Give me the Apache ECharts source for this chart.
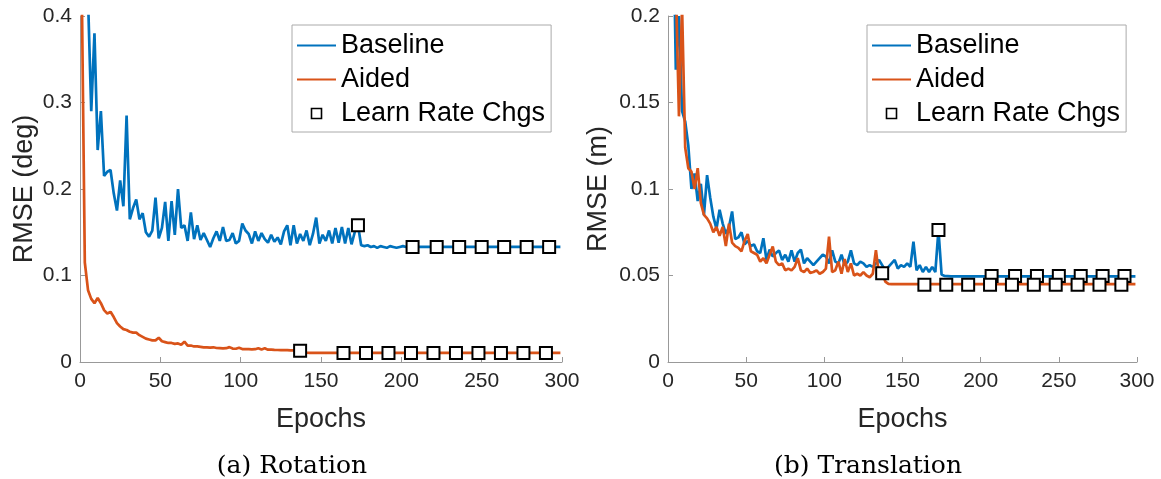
<!DOCTYPE html>
<html>
<head>
<meta charset="utf-8">
<script src="https://cdn.jsdelivr.net/npm/echarts@6/dist/echarts.min.js"></script>
<style>
  html, body { margin: 0; padding: 0; background: #fff; }
  #chart { width: 1161px; height: 479px; }
</style>
</head>
<body>
<div id="chart"></div>
<script>
// sampled every 2 epochs: 1, 3, 5, ... 299
const epochs = []
for (let e = 1; e < 300; e += 2) epochs.push(e)

const xTicks = [0, 50, 100, 150, 200, 250, 300]

// (a) Rotation, RMSE in deg
const rotBaseline = [
  0.95, 0.62, 0.42, 0.29, 0.38, 0.245, 0.29, 0.215, 0.22, 0.222,
  0.195, 0.175, 0.21, 0.18, 0.285, 0.165, 0.178, 0.188, 0.165, 0.172,
  0.15, 0.145, 0.152, 0.19, 0.143, 0.155, 0.185, 0.14, 0.186, 0.147,
  0.2, 0.155, 0.158, 0.14, 0.173, 0.142, 0.158, 0.141, 0.149, 0.141,
  0.133, 0.143, 0.151, 0.14, 0.156, 0.14, 0.141, 0.149, 0.137, 0.14,
  0.16, 0.152, 0.148, 0.137, 0.151, 0.14, 0.149, 0.142, 0.138, 0.147,
  0.139, 0.144, 0.136, 0.151, 0.158, 0.135, 0.158, 0.137, 0.148, 0.14,
  0.152, 0.135, 0.148, 0.167, 0.137, 0.147, 0.14, 0.152, 0.137, 0.155,
  0.138, 0.156, 0.137, 0.155, 0.136, 0.15, 0.158, 0.135, 0.134, 0.135,
  0.133, 0.134, 0.132, 0.134, 0.133, 0.132, 0.134, 0.133, 0.132, 0.133,
  0.134, 0.133, 0.133, 0.133, 0.133, 0.133, 0.133, 0.133, 0.133, 0.133,
  0.133, 0.133, 0.133, 0.133, 0.133, 0.133, 0.133, 0.133, 0.133, 0.133,
  0.133, 0.133, 0.133, 0.133, 0.133, 0.133, 0.133, 0.133, 0.133, 0.133,
  0.133, 0.133, 0.133, 0.133, 0.133, 0.133, 0.133, 0.133, 0.133, 0.133,
  0.133, 0.133, 0.133, 0.133, 0.133, 0.133, 0.133, 0.133, 0.133, 0.133
]
const rotAided = [
  0.45, 0.115, 0.083, 0.073, 0.068, 0.074, 0.068, 0.06, 0.056, 0.058,
  0.052, 0.045, 0.041, 0.038, 0.037, 0.035, 0.034, 0.034, 0.031, 0.029,
  0.027, 0.026, 0.025, 0.025, 0.028, 0.024, 0.023, 0.022, 0.022, 0.021,
  0.0215, 0.02, 0.0235, 0.019, 0.019, 0.018, 0.018, 0.0175, 0.017, 0.0168,
  0.0166, 0.017, 0.0162, 0.016, 0.0158, 0.016, 0.0172, 0.0155, 0.0153, 0.0165,
  0.015, 0.015, 0.0148, 0.0146, 0.0148, 0.016, 0.0145, 0.0158, 0.0143, 0.0142,
  0.014, 0.0139, 0.0138, 0.0137, 0.0138, 0.0135, 0.0135, 0.0133, 0.013, 0.011,
  0.0107, 0.0106, 0.0105, 0.0105, 0.0105, 0.0105, 0.0105, 0.0105, 0.0105, 0.0105,
  0.0105, 0.0105, 0.0105, 0.0105, 0.0105, 0.0105, 0.0105, 0.0105, 0.0105, 0.0105,
  0.0105, 0.0105, 0.0105, 0.0105, 0.0105, 0.0105, 0.0105, 0.0105, 0.0105, 0.0105,
  0.0105, 0.0105, 0.0105, 0.0105, 0.0105, 0.0105, 0.0105, 0.0105, 0.0105, 0.0105,
  0.0105, 0.0105, 0.0105, 0.0105, 0.0105, 0.0105, 0.0105, 0.0105, 0.0105, 0.0105,
  0.0105, 0.0105, 0.0105, 0.0105, 0.0105, 0.0105, 0.0105, 0.0105, 0.0105, 0.0105,
  0.0105, 0.0105, 0.0105, 0.0105, 0.0105, 0.0105, 0.0105, 0.0105, 0.0105, 0.0105,
  0.0105, 0.0105, 0.0105, 0.0105, 0.0105, 0.0105, 0.0105, 0.0105, 0.0105, 0.0105
]

// (b) Translation, RMSE in m
const transBaseline = [
  0.5, 0.28, 0.169, 0.2, 0.145, 0.139, 0.125, 0.1, 0.109, 0.093,
  0.103, 0.085, 0.108, 0.095, 0.084, 0.077, 0.088, 0.08, 0.074, 0.078,
  0.087, 0.071, 0.072, 0.075, 0.068, 0.07, 0.067, 0.068, 0.064, 0.063,
  0.0715, 0.059, 0.065, 0.061, 0.063, 0.0645, 0.059, 0.062, 0.058, 0.0645,
  0.058, 0.063, 0.065, 0.057, 0.06, 0.058, 0.056, 0.058, 0.06, 0.062,
  0.061, 0.057, 0.0645, 0.058, 0.057, 0.062, 0.056, 0.058, 0.0645, 0.057,
  0.056, 0.058, 0.057, 0.055, 0.056, 0.055, 0.057, 0.059, 0.056, 0.053,
  0.055, 0.057, 0.059, 0.054, 0.056, 0.055, 0.057, 0.055, 0.0695, 0.053,
  0.056, 0.052, 0.055, 0.052, 0.055, 0.052, 0.0763, 0.0505, 0.0497, 0.0496,
  0.0495, 0.0495, 0.0495, 0.0495, 0.0495, 0.0495, 0.0495, 0.0495, 0.0495, 0.0495,
  0.0495, 0.0495, 0.0495, 0.0495, 0.0495, 0.0495, 0.0495, 0.0495, 0.0495, 0.0495,
  0.0495, 0.0495, 0.0495, 0.0495, 0.0495, 0.0495, 0.0495, 0.0495, 0.0495, 0.0495,
  0.0495, 0.0495, 0.0495, 0.0495, 0.0495, 0.0495, 0.0495, 0.0495, 0.0495, 0.0495,
  0.0495, 0.0495, 0.0495, 0.0495, 0.0495, 0.0495, 0.0495, 0.0495, 0.0495, 0.0495,
  0.0495, 0.0495, 0.0495, 0.0495, 0.0495, 0.0495, 0.0495, 0.0495, 0.0495, 0.0495
]
const transAided = [
  0.5, 0.3, 0.22, 0.142, 0.205, 0.124, 0.112, 0.11, 0.1, 0.112,
  0.092, 0.085, 0.083, 0.08, 0.075, 0.078, 0.073, 0.078, 0.067, 0.08,
  0.069, 0.067, 0.066, 0.064, 0.07, 0.074, 0.064, 0.063, 0.062, 0.058,
  0.06, 0.057, 0.062, 0.0667, 0.058, 0.056, 0.057, 0.053, 0.054, 0.053,
  0.055, 0.06, 0.053, 0.052, 0.054, 0.0515, 0.052, 0.053, 0.051, 0.052,
  0.054, 0.0725, 0.052, 0.053, 0.058, 0.051, 0.0595, 0.052, 0.057, 0.05,
  0.051, 0.05, 0.052, 0.05, 0.049, 0.051, 0.0647, 0.05, 0.0513, 0.0465,
  0.0452, 0.045, 0.045, 0.045, 0.045, 0.045, 0.045, 0.045, 0.045, 0.045,
  0.045, 0.045, 0.045, 0.045, 0.045, 0.045, 0.045, 0.045, 0.045, 0.045,
  0.045, 0.045, 0.045, 0.045, 0.045, 0.045, 0.045, 0.045, 0.045, 0.045,
  0.045, 0.045, 0.045, 0.045, 0.045, 0.045, 0.045, 0.045, 0.045, 0.045,
  0.045, 0.045, 0.045, 0.045, 0.045, 0.045, 0.045, 0.045, 0.045, 0.045,
  0.045, 0.045, 0.045, 0.045, 0.045, 0.045, 0.045, 0.045, 0.045, 0.045,
  0.045, 0.045, 0.045, 0.045, 0.045, 0.045, 0.045, 0.045, 0.045, 0.045,
  0.045, 0.045, 0.045, 0.045, 0.045, 0.045, 0.045, 0.045, 0.045, 0.045
]

// learning rate changes
const lrEpochsBaseline = [173, 207, 222, 236, 250, 264, 278, 292]
const lrEpochsAided = [137, 164, 178, 192, 206, 220, 234, 248, 262, 276, 290]
const rotLrBaseline = [0.158, 0.133, 0.133, 0.133, 0.133, 0.133, 0.133, 0.133]
const rotLrAided = [0.013, 0.0105, 0.0105, 0.0105, 0.0105, 0.0105, 0.0105, 0.0105, 0.0105, 0.0105, 0.0105]
const transLrBaseline = [0.0763, 0.0497, 0.0497, 0.0497, 0.0497, 0.0497, 0.0497, 0.0497]
const transLrAided = [0.0513, 0.0447, 0.0447, 0.0447, 0.0447, 0.0447, 0.0447, 0.0447, 0.0447, 0.0447, 0.0447]

const BLUE = '#0072BD'
const ORANGE = '#D95319'
const SANS = '"Liberation Sans", Arial, sans-serif'

const pairs = (xs, ys) => xs.map((x, i) => [x, ys[i]])

function xAxisFor(gridIndex) {
  return {
    type: 'value',
    gridIndex,
    min: xTicks[0],
    max: xTicks[xTicks.length - 1],
    interval: 50,
    name: 'Epochs',
    nameLocation: 'middle',
    nameGap: 44,
    nameTextStyle: { fontFamily: SANS, fontSize: 27, color: '#262626' },
    axisLine: { lineStyle: { color: '#999', width: 1 } },
    axisTick: { inside: true, length: 5, lineStyle: { color: '#999' } },
    axisLabel: { fontFamily: SANS, fontSize: 21, color: '#262626', margin: 9 },
    splitLine: { show: false }
  }
}

function yAxisFor(gridIndex, max, interval, name, nameGap) {
  return {
    type: 'value',
    gridIndex,
    min: 0,
    max,
    interval,
    name,
    nameLocation: 'middle',
    nameGap,
    nameTextStyle: { fontFamily: SANS, fontSize: 27, color: '#262626' },
    axisLine: { show: true, lineStyle: { color: '#999', width: 1 } },
    axisTick: { show: true, inside: true, length: 5, lineStyle: { color: '#999' } },
    axisLabel: { fontFamily: SANS, fontSize: 21, color: '#262626', margin: 8 },
    splitLine: { show: false }
  }
}

function lineSeries(name, color, idx, values) {
  return {
    name,
    type: 'line',
    xAxisIndex: idx,
    yAxisIndex: idx,
    data: pairs(epochs, values),
    symbol: 'none',
    lineStyle: { color, width: 2.7 },
    itemStyle: { color },
    z: 2
  }
}

function markerSeries(idx, baseVals, aidedVals) {
  return {
    name: 'Learn Rate Chgs',
    type: 'scatter',
    xAxisIndex: idx,
    yAxisIndex: idx,
    data: pairs(lrEpochsBaseline, baseVals).concat(pairs(lrEpochsAided, aidedVals)),
    symbol: 'rect',
    symbolSize: 12,
    itemStyle: { color: '#fff', borderColor: '#000', borderWidth: 2, opacity: 1 },
    z: 5
  }
}

function legendAt(left) {
  return {
    left,
    top: 25,
    orient: 'vertical',
    data: [
      { name: 'Baseline', itemStyle: { opacity: 0 } },
      { name: 'Aided', itemStyle: { opacity: 0 } },
      { name: 'Learn Rate Chgs', icon: 'path://M0,0 H10 V10 H0 Z', itemStyle: { borderWidth: 1.6, opacity: 1 } }
    ],
    itemWidth: 39,
    itemHeight: 10,
    itemGap: 7,
    padding: [7, 6, 5, 4],
    borderColor: '#aaa',
    borderWidth: 1,
    backgroundColor: '#fff',
    selectedMode: false,
    textStyle: { fontFamily: SANS, fontSize: 27, color: '#000' }
  }
}

const captionStyle = { fontFamily: '"DejaVu Serif", serif', fontWeight: 'normal', fontSize: 25, color: '#000' }

const option = {
  animation: false,
  backgroundColor: '#fff',
  title: [
    { text: '(a) Rotation', left: 292, top: 454, textAlign: 'center', padding: 0, textStyle: captionStyle },
    { text: '(b) Translation', left: 868, top: 454, textAlign: 'center', padding: 0, textStyle: captionStyle }
  ],
  grid: [
    { left: 80, top: 16, width: 482, height: 346 },
    { left: 668, top: 16, width: 469, height: 346 }
  ],
  legend: [legendAt(292), legendAt(867)],
  xAxis: [xAxisFor(0), xAxisFor(1)],
  yAxis: [
    yAxisFor(0, 0.4, 0.1, 'RMSE (deg)', 42),
    yAxisFor(1, 0.2, 0.05, 'RMSE (m)', 56)
  ],
  series: [
    lineSeries('Baseline', BLUE, 0, rotBaseline),
    lineSeries('Aided', ORANGE, 0, rotAided),
    markerSeries(0, rotLrBaseline, rotLrAided),
    lineSeries('Baseline', BLUE, 1, transBaseline),
    lineSeries('Aided', ORANGE, 1, transAided),
    markerSeries(1, transLrBaseline, transLrAided)
  ]
}

const myChart = echarts.init(document.getElementById('chart'))
myChart.setOption(option)
window.addEventListener('resize', () => {
  myChart.resize()
})
</script>
</body>
</html>
